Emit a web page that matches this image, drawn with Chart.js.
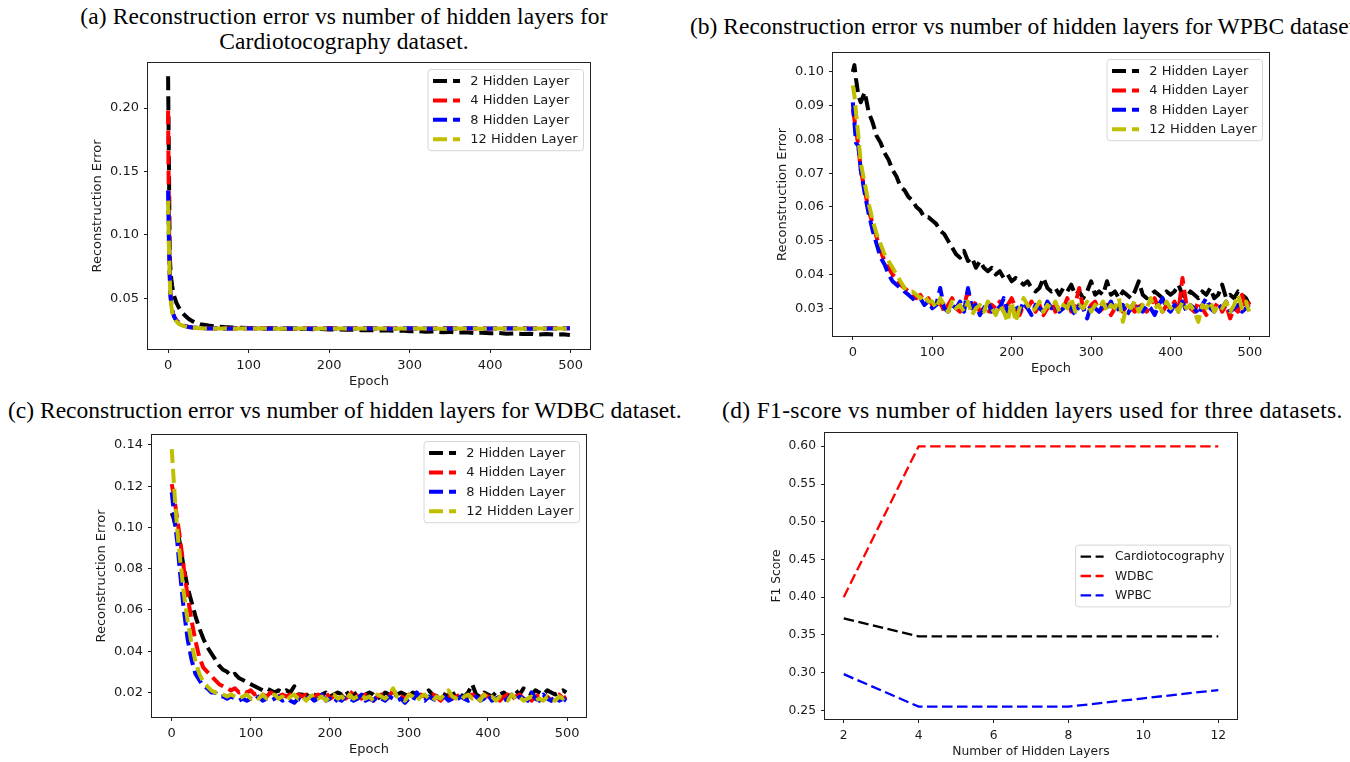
<!DOCTYPE html>
<html><head><meta charset="utf-8">
<script src="https://cdn.jsdelivr.net/npm/chart.js@4.4.1/dist/chart.umd.min.js"></script>
<style>
html,body{margin:0;padding:0;background:#fff;}
body{width:1350px;height:762px;position:relative;overflow:hidden;}
.ttl{position:absolute;font-family:"Liberation Serif","Times New Roman",serif;font-size:23.5px;color:#000;white-space:nowrap;line-height:25px;}
canvas{position:absolute;}
</style></head><body>
<div class="ttl" style="left:0;width:688px;top:4px;text-align:center;letter-spacing:0.12px">(a) Reconstruction error vs number of hidden layers for<br>Cardiotocography dataset.</div>
<div class="ttl" style="left:690px;top:14px;">(b) Reconstruction error vs number of hidden layers for WPBC dataset.</div>
<div class="ttl" style="left:8px;top:398px;">(c) Reconstruction error vs number of hidden layers for WDBC dataset.</div>
<div class="ttl" style="left:722px;top:398px;letter-spacing:0.35px">(d) F1-score vs number of hidden layers used for three datasets.</div>
<script>
// ---------------- DATA ----------------
const seriesLabels = ['2 Hidden Layer', '4 Hidden Layer', '8 Hidden Layer', '12 Hidden Layer'];

// (a) Cardiotocography
const epochsA = [0,1,2,3,4,5,6,8,10,13,16,20,25,30,35,40,
  50,60,70,80,90,100,110,120,130,140,
  150,160,170,180,190,200,210,220,230,240,
  250,260,270,280,290,300,310,320,330,340,
  350,360,370,380,390,400,410,420,430,440,
  450,460,470,480,490,499];
const a2 = [0.225,0.16,0.085,0.072,0.065,0.060,0.056,0.051,0.047,0.043,0.040,0.037,0.034,0.032,0.0305,0.0295,
  0.0285,0.0278,0.0273,0.0270,0.0268,0.0265,0.0266,0.0262,0.0264,0.0260,
  0.0261,0.0258,0.0259,0.0256,0.0257,0.0254,0.0255,0.0251,0.0252,0.0248,
  0.0250,0.0246,0.0247,0.0243,0.0245,0.0239,0.0241,0.0236,0.0238,0.0233,
  0.0235,0.0229,0.0232,0.0226,0.0229,0.0224,0.0226,0.0221,0.0223,0.0218,
  0.0221,0.0215,0.0218,0.0213,0.0216,0.0210];
const a4 = [0.198,0.12,0.070,0.052,0.045,0.041,0.038,0.035,0.033,0.031,0.0295,0.0285,0.0275,0.027,0.0268,0.0266,
  0.0263,0.0261,0.0264,0.0262,0.0260,0.0265,0.0262,0.0263,0.0261,0.0266,
  0.0262,0.0260,0.0264,0.0262,0.0261,0.0265,0.0263,0.0260,0.0264,0.0262,
  0.0266,0.0261,0.0263,0.0262,0.0265,0.0261,0.0263,0.0260,0.0264,0.0262,
  0.0266,0.0261,0.0263,0.0262,0.0265,0.0260,0.0263,0.0264,0.0261,0.0266,
  0.0262,0.0263,0.0261,0.0265,0.0262,0.0264];
const a8 = [0.135,0.095,0.068,0.052,0.045,0.041,0.038,0.035,0.0325,0.0305,0.0292,0.0282,0.0274,0.027,0.0267,0.0265,
  0.0261,0.0263,0.0260,0.0262,0.0264,0.0261,0.0263,0.0260,0.0262,0.0264,
  0.0261,0.0263,0.0260,0.0262,0.0265,0.0261,0.0262,0.0263,0.0260,0.0264,
  0.0261,0.0263,0.0262,0.0260,0.0263,0.0264,0.0261,0.0262,0.0260,0.0264,
  0.0262,0.0261,0.0263,0.0264,0.0260,0.0262,0.0263,0.0261,0.0264,0.0262,
  0.0260,0.0263,0.0262,0.0261,0.0264,0.0263];
const a12 = [0.127,0.092,0.066,0.051,0.044,0.040,0.0375,0.0345,0.032,0.030,0.029,0.028,0.0272,0.0268,0.0266,0.0264,
  0.0262,0.0261,0.0262,0.0260,0.0262,0.0261,0.0263,0.0261,0.0262,0.0260,
  0.0262,0.0261,0.0262,0.0260,0.0261,0.0262,0.0261,0.0262,0.0260,0.0262,
  0.0261,0.0262,0.0261,0.0260,0.0262,0.0261,0.0262,0.0261,0.0262,0.0260,
  0.0261,0.0262,0.0261,0.0262,0.0260,0.0262,0.0261,0.0262,0.0261,0.0260,
  0.0262,0.0261,0.0262,0.0261,0.0262,0.0262];

// (b) WPBC and (c) WDBC share the same epochs
const epochsBC = [0,2,4,7,10,
  15,20,25,30,35,40,45,50,55,60,65,70,75,80,85,90,95,100,
  105,110,115,120,125,130,135,140,145,150,
  155,160,165,170,175,180,185,190,195,200,
  205,210,215,220,225,230,235,240,245,250,
  255,260,265,270,275,280,285,290,295,300,
  305,310,315,320,325,330,335,340,345,350,
  355,360,365,370,375,380,385,390,395,400,
  405,410,415,420,425,430,435,440,445,450,
  455,460,465,470,475,480,485,490,495,499];

const b2 = [0.100,0.102,0.098,0.093,0.091,
  0.094,0.088,0.085,0.081,0.079,0.076,0.074,0.071,0.069,0.066,0.065,0.063,0.062,0.060,0.059,0.057,0.057,0.056,
  0.055,0.053,0.052,0.050,0.048,0.046,0.045,0.047,0.044,0.045,
  0.042,0.044,0.042,0.041,0.042,0.040,0.041,0.039,0.040,0.038,
  0.039,0.038,0.037,0.038,0.036,0.035,0.036,0.039,0.036,0.035,
  0.036,0.034,0.036,0.035,0.037,0.034,0.035,0.033,0.035,0.038,
  0.034,0.035,0.034,0.038,0.034,0.035,0.033,0.035,0.034,0.033,
  0.035,0.038,0.034,0.033,0.034,0.035,0.034,0.033,0.035,0.034,
  0.035,0.037,0.034,0.033,0.035,0.034,0.033,0.035,0.034,0.036,
  0.033,0.034,0.037,0.033,0.034,0.033,0.035,0.034,0.033,0.031];
const b4 = [0.089,0.086,0.083,0.078,0.071,
  0.065,0.059,0.055,0.051,0.047,0.044,0.042,0.040,0.039,0.037,0.036,0.035,0.034,0.033,0.034,0.032,0.033,0.031,
  0.030,0.032,0.029,0.031,0.033,0.030,0.029,0.031,0.035,0.030,
  0.032,0.029,0.030,0.028,0.031,0.030,0.032,0.029,0.031,0.033,
  0.030,0.028,0.031,0.030,0.032,0.029,0.031,0.028,0.030,0.032,
  0.029,0.031,0.030,0.033,0.029,0.031,0.036,0.030,0.029,0.031,
  0.032,0.029,0.030,0.031,0.028,0.030,0.032,0.029,0.031,0.030,
  0.029,0.032,0.030,0.029,0.031,0.033,0.030,0.029,0.031,0.030,
  0.032,0.029,0.039,0.031,0.030,0.029,0.032,0.030,0.028,0.031,
  0.030,0.032,0.029,0.031,0.027,0.030,0.029,0.034,0.030,0.032];
const b8 = [0.091,0.085,0.079,0.078,0.071,
  0.064,0.058,0.053,0.049,0.045,0.043,0.040,0.038,0.037,0.036,0.035,0.034,0.033,0.032,0.033,0.031,0.032,0.030,
  0.031,0.036,0.030,0.029,0.031,0.030,0.032,0.029,0.036,0.030,
  0.031,0.028,0.030,0.032,0.029,0.031,0.030,0.033,0.029,0.030,
  0.031,0.029,0.032,0.030,0.028,0.031,0.030,0.029,0.032,0.030,
  0.031,0.029,0.030,0.032,0.030,0.028,0.031,0.030,0.027,0.031,
  0.030,0.029,0.031,0.030,0.032,0.029,0.030,0.031,0.028,0.030,
  0.032,0.030,0.029,0.031,0.030,0.028,0.031,0.033,0.030,0.029,
  0.031,0.030,0.032,0.029,0.031,0.030,0.028,0.031,0.033,0.030,
  0.029,0.031,0.030,0.032,0.029,0.030,0.031,0.029,0.030,0.031];
const b12 = [0.096,0.093,0.088,0.081,0.073,
  0.067,0.061,0.056,0.052,0.049,0.046,0.044,0.042,0.040,0.038,0.036,0.035,0.035,0.034,0.033,0.034,0.032,0.032,
  0.030,0.033,0.031,0.029,0.032,0.030,0.031,0.029,0.032,0.028,
  0.030,0.031,0.029,0.032,0.030,0.028,0.031,0.029,0.026,0.032,
  0.026,0.030,0.033,0.031,0.029,0.030,0.032,0.029,0.031,0.030,
  0.032,0.029,0.031,0.030,0.033,0.029,0.031,0.030,0.032,0.029,
  0.031,0.030,0.032,0.029,0.031,0.030,0.033,0.026,0.031,0.030,
  0.032,0.029,0.031,0.030,0.033,0.030,0.031,0.029,0.032,0.030,
  0.031,0.029,0.032,0.030,0.031,0.029,0.026,0.031,0.030,0.032,
  0.029,0.031,0.030,0.032,0.029,0.031,0.034,0.030,0.032,0.029];

const c2 = [0.107,0.105,0.102,0.099,0.093,
  0.081,0.071,0.064,0.057,0.051,0.046,0.042,0.039,0.036,0.033,0.031,0.030,0.028,0.029,0.027,0.026,0.025,0.024,
  0.023,0.022,0.021,0.022,0.021,0.020,0.021,0.020,0.021,0.020,
  0.023,0.019,0.019,0.018,0.020,0.019,0.018,0.019,0.020,0.018,
  0.019,0.020,0.019,0.021,0.018,0.019,0.020,0.018,0.019,0.020,
  0.019,0.017,0.018,0.020,0.019,0.018,0.019,0.020,0.019,0.018,
  0.020,0.019,0.018,0.019,0.021,0.019,0.018,0.020,0.019,0.018,
  0.019,0.020,0.019,0.018,0.020,0.024,0.019,0.018,0.020,0.019,
  0.018,0.020,0.019,0.020,0.018,0.019,0.021,0.019,0.022,0.020,
  0.019,0.021,0.020,0.019,0.021,0.020,0.019,0.020,0.021,0.020];
const c4 = [0.121,0.117,0.112,0.104,0.096,
  0.081,0.067,0.055,0.045,0.037,0.032,0.030,0.028,0.026,0.024,0.023,0.022,0.021,0.022,0.020,0.021,0.020,0.021,
  0.019,0.020,0.019,0.018,0.020,0.019,0.018,0.019,0.018,0.019,
  0.017,0.019,0.018,0.019,0.017,0.018,0.019,0.018,0.020,0.017,
  0.018,0.019,0.018,0.017,0.019,0.021,0.018,0.017,0.019,0.018,
  0.016,0.018,0.019,0.017,0.018,0.021,0.019,0.018,0.017,0.019,
  0.018,0.017,0.019,0.018,0.017,0.019,0.018,0.016,0.018,0.019,
  0.017,0.018,0.019,0.017,0.018,0.019,0.018,0.017,0.019,0.018,
  0.017,0.018,0.016,0.018,0.019,0.017,0.018,0.019,0.017,0.018,
  0.016,0.018,0.019,0.017,0.018,0.016,0.018,0.019,0.017,0.018];
const c8 = [0.117,0.110,0.102,0.093,0.080,
  0.061,0.046,0.036,0.029,0.026,0.023,0.022,0.020,0.020,0.018,0.018,0.017,0.018,0.017,0.016,0.017,0.016,0.017,
  0.016,0.018,0.016,0.017,0.016,0.017,0.018,0.016,0.017,0.016,
  0.015,0.017,0.016,0.017,0.018,0.016,0.017,0.019,0.016,0.017,
  0.015,0.017,0.016,0.018,0.017,0.016,0.017,0.019,0.016,0.017,
  0.016,0.018,0.017,0.016,0.018,0.017,0.016,0.017,0.015,0.017,
  0.016,0.020,0.017,0.016,0.018,0.017,0.016,0.017,0.018,0.016,
  0.017,0.016,0.018,0.017,0.016,0.017,0.018,0.016,0.017,0.019,
  0.016,0.017,0.018,0.016,0.017,0.019,0.016,0.018,0.017,0.016,
  0.020,0.017,0.016,0.019,0.017,0.016,0.018,0.016,0.017,0.016];
const c12 = [0.138,0.126,0.114,0.099,0.087,
  0.069,0.055,0.044,0.035,0.029,0.025,0.023,0.021,0.020,0.020,0.019,0.018,0.019,0.018,0.017,0.018,0.019,0.017,
  0.018,0.017,0.019,0.017,0.018,0.019,0.017,0.018,0.016,0.018,
  0.019,0.017,0.018,0.016,0.018,0.019,0.017,0.018,0.016,0.018,
  0.019,0.017,0.018,0.016,0.019,0.017,0.018,0.019,0.017,0.018,
  0.016,0.019,0.018,0.017,0.019,0.022,0.018,0.017,0.016,0.019,
  0.018,0.016,0.018,0.019,0.017,0.016,0.018,0.017,0.019,0.021,
  0.018,0.017,0.016,0.018,0.019,0.017,0.018,0.016,0.019,0.017,
  0.018,0.016,0.018,0.017,0.016,0.019,0.017,0.018,0.016,0.017,
  0.018,0.016,0.017,0.016,0.018,0.017,0.016,0.018,0.017,0.018];

// (d) F1 score
const layersD = [2,4,6,8,10,12];
const dLabels = ['Cardiotocography','WDBC','WPBC'];
const dCardio = [0.372,0.348,0.348,0.348,0.348,0.348];
const dWDBC = [0.400,0.600,0.600,0.600,0.600,0.600];
const dWPBC = [0.298,0.255,0.255,0.255,0.266,0.277];

// tick labels
const epochTicks = [0,100,200,300,400,500];
const yTicksA = [0.05,0.10,0.15,0.20];
const yTicksB = [0.03,0.04,0.05,0.06,0.07,0.08,0.09,0.10];
const yTicksC = [0.02,0.04,0.06,0.08,0.10,0.12,0.14];
const xTicksD = [2,4,6,8,10,12];
const yTicksD = [0.25,0.30,0.35,0.40,0.45,0.50,0.55,0.60];

// ---------------- DRAWING ----------------
const TXT = '#1a1a1a';
const YW = 88, XH = 50, PT = 16, PR = 12;
const colors = ['#000000','#ff0000','#0000ff','#bfbf00'];

const framePlugin = {
  id:'frame',
  afterDraw(chart){
    const {ctx, chartArea:a} = chart;
    ctx.save();
    ctx.strokeStyle = '#222'; ctx.lineWidth = 1;
    ctx.strokeRect(a.left-0.5, a.top-0.5, a.right-a.left+1, a.bottom-a.top+1);
    ctx.restore();
  }
};
const legendPlugin = {
  id:'boxLegend',
  afterDraw(chart, args, o){
    const {ctx, chartArea:a} = chart;
    const ds = chart.data.datasets;
    ctx.save();
    ctx.font = o.fontSize + 'px "DejaVu Sans", sans-serif';
    const tw = Math.max(...ds.map(d=>ctx.measureText(d.label).width));
    const w = o.textX + tw + 6;
    const rowH = 19.4;
    const h = ds.length*rowH + 3.6;
    const x = a.right - 6.5 - w;
    const y = o.center ? (a.top+a.bottom)/2 - h/2 : a.top + 6.5;
    const r = 3;
    ctx.beginPath();
    ctx.moveTo(x+r,y); ctx.lineTo(x+w-r,y); ctx.arcTo(x+w,y,x+w,y+r,r);
    ctx.lineTo(x+w,y+h-r); ctx.arcTo(x+w,y+h,x+w-r,y+h,r);
    ctx.lineTo(x+r,y+h); ctx.arcTo(x,y+h,x,y+h-r,r);
    ctx.lineTo(x,y+r); ctx.arcTo(x,y,x+r,y,r); ctx.closePath();
    ctx.fillStyle = 'rgba(255,255,255,0.85)'; ctx.fill();
    ctx.strokeStyle = '#d6d6d6'; ctx.lineWidth = 1; ctx.stroke();
    ds.forEach((d,i)=>{
      const cy = y + 1.8 + rowH/2 + i*rowH;
      ctx.beginPath();
      ctx.setLineDash(d.borderDash); ctx.lineWidth = d.borderWidth; ctx.strokeStyle = d.borderColor;
      ctx.lineCap = 'butt';
      ctx.moveTo(x+5, cy); ctx.lineTo(x+5+o.sampleLen, cy); ctx.stroke();
      ctx.setLineDash([]);
      ctx.fillStyle = TXT; ctx.textBaseline = 'middle'; ctx.textAlign = 'left';
      ctx.fillText(d.label, x+o.textX, cy+0.5);
    });
    ctx.restore();
  }
};

function makeChart(box, xCfg, yCfg, datasets, legendOpts, fontSize){
  const FONT = {family:'"DejaVu Sans", sans-serif', size:fontSize, lineHeight:1.2};
  const half = fontSize*0.6;
  const c = document.createElement('canvas');
  const w = box.R - box.L + YW + PR, h = box.B - box.T + PT + XH;
  c.width = w; c.height = h;
  c.style.left = (box.L - YW) + 'px'; c.style.top = (box.T - PT) + 'px';
  c.style.width = w + 'px'; c.style.height = h + 'px';
  document.body.appendChild(c);
  const grid = {display:true, drawOnChartArea:false, drawTicks:true, tickLength:4, tickWidth:1, tickColor:'#222', color:'#222'};
  legendOpts.fontSize = fontSize;
  new Chart(c, {
    type:'line',
    data:{datasets},
    options:{
      responsive:false, animation:false, devicePixelRatio:1,
      layout:{padding:{left:0, top:PT, right:PR, bottom:0}},
      plugins:{legend:{display:false}, tooltip:{enabled:false}, boxLegend:legendOpts},
      elements:{point:{radius:0}, line:{tension:0}},
      scales:{
        x:{type:'linear', min:xCfg.min, max:xCfg.max,
          afterFit:s=>{s.height = XH;},
          afterBuildTicks:s=>{s.ticks = xCfg.ticks.map(v=>({value:v}));},
          ticks:{font:FONT, color:TXT, padding:5, maxRotation:0, autoSkip:false, callback:v=>String(v)},
          grid, border:{display:false},
          title:{display:true, text:xCfg.title, font:FONT, color:TXT, padding:{top:0, bottom:17-half}}},
        y:{type:'linear', min:yCfg.min, max:yCfg.max,
          afterFit:s=>{s.width = YW;},
          afterBuildTicks:s=>{s.ticks = yCfg.ticks.map(v=>({value:v}));},
          ticks:{font:FONT, color:TXT, padding:5, autoSkip:false, callback:v=>v.toFixed(2)},
          grid, border:{display:false},
          title:{display:true, text:yCfg.title, font:FONT, color:TXT, padding:{top:yCfg.titleOff-half, bottom:0}}}
      }
    },
    plugins:[framePlugin, legendPlugin]
  });
}

function noisySets(xs, seriesList){
  return seriesList.map((ys,i)=>({
    label: seriesLabels[i],
    data: xs.map((x,j)=>({x, y: ys[j]})),
    borderColor: colors[i], backgroundColor: colors[i],
    borderWidth: 4, borderDash:[14,6], borderJoinStyle:'round', borderCapStyle:'butt',
    fill:false, order: 4 - i
  }));
}

makeChart({L:148,T:63,R:590,B:349},
  {min:-24.95,max:523.95,ticks:epochTicks,title:'Epoch'},
  {min:0.0100,max:0.2355,ticks:yTicksA,title:'Reconstruction Error',titleOff:38},
  noisySets(epochsA,[a2,a4,a8,a12]), {textX:42.3, sampleLen:27, center:false}, 13);

makeChart({L:833,T:53,R:1269,B:336},
  {min:-24.95,max:523.95,ticks:epochTicks,title:'Epoch'},
  {min:0.0218,max:0.1056,ticks:yTicksB,title:'Reconstruction Error',titleOff:38},
  noisySets(epochsBC,[b2,b4,b8,b12]), {textX:42.3, sampleLen:27, center:false}, 13);

makeChart({L:152,T:435,R:586,B:717},
  {min:-24.95,max:523.95,ticks:epochTicks,title:'Epoch'},
  {min:0.0081,max:0.1448,ticks:yTicksC,title:'Reconstruction Error',titleOff:38},
  noisySets(epochsBC,[c2,c4,c8,c12]), {textX:42.3, sampleLen:27, center:false}, 13);

const dSeries = [dCardio,dWDBC,dWPBC];
makeChart({L:825,T:433,R:1237,B:719},
  {min:1.5,max:12.5,ticks:xTicksD,title:'Number of Hidden Layers'},
  {min:0.2386,max:0.6176,ticks:yTicksD,title:'F1 Score',titleOff:40},
  dSeries.map((ys,i)=>({
    label: dLabels[i],
    data: layersD.map((x,j)=>({x, y: ys[j]})),
    borderColor: colors[i], backgroundColor: colors[i],
    borderWidth: 2.3, borderDash:[10.5,4.5], borderCapStyle:'butt', fill:false
  })),
  {textX:39.3, sampleLen:23, center:true}, 12.3);
</script>
</body></html>
